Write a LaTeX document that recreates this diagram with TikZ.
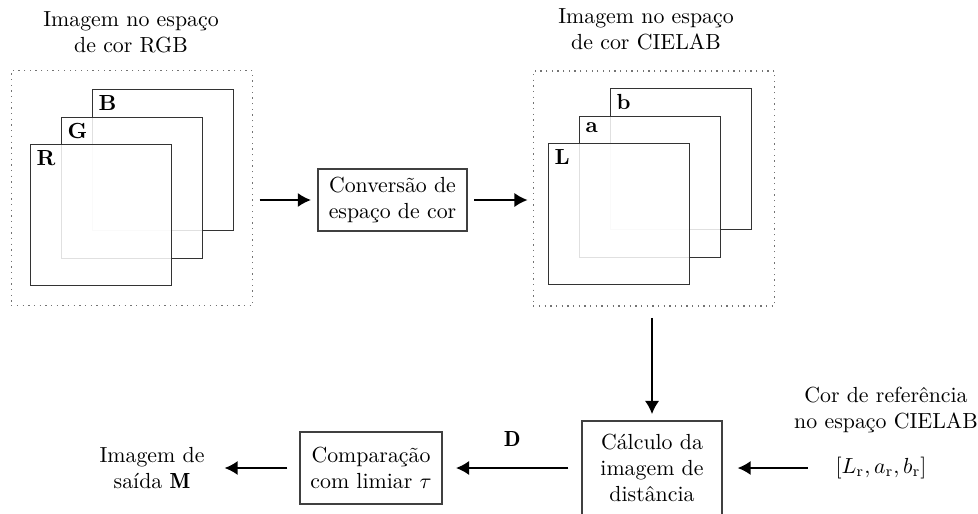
\documentclass[tikz,border=0pt]{standalone}
\usepackage{fontspec}
\usetikzlibrary{arrows.meta, positioning}

\tikzset{
  camada/.style={draw=black!80, line width=0.75pt, fill=white, fill opacity=0.85,
    minimum size=2.27cm, inner sep=0pt},
  rotulo/.style={anchor=north west, inner sep=3pt, font=\bfseries},
  moldura/.style={draw=black!55, dotted, line width=0.6pt,
    minimum width=3.89cm, minimum height=3.78cm, inner sep=0pt},
  bloco/.style={draw=black!75, line width=0.75pt, align=center, inner sep=0pt},
  seta/.style={-{Latex[length=6pt,width=6.5pt]}, line width=0.8pt},
}

\begin{document}
\begin{tikzpicture}[x=0.0161cm, y=-0.0161cm]
    \useasboundingbox (0,0) rectangle (978,513);

    % imagem de entrada (RGB)
    \node [align=center] (rgbtitle) at (131,32) {Imagem no espaço\\de cor RGB};
    \node [moldura] (rgb) at (132,188) {};
    \node [camada] (B) at (163,160) {};
    \node [rotulo] at (B.north west) {B};
    \node [camada] (G) at (132,188) {};
    \node [rotulo] at (G.north west) {G};
    \node [camada] (R) at (101,215) {};
    \node [rotulo] at (R.north west) {R};

    \node [bloco, minimum width=2.4cm, minimum height=1cm] (conv) at (392.5,200) {Conversão de\\espaço de cor};

    % imagem convertida (CIELAB)
    \node [align=center] (labtitle) at (646,29) {Imagem no espaço\\de cor CIELAB};
    \node [moldura] (lab) at (654,188.5) {};
    \node [camada] (b) at (681,159) {};
    \node [rotulo] at (b.north west) {b};
    \node [camada] (a) at (650,187) {};
    \node [rotulo] at (a.north west) {a};
    \node [camada] (L) at (619,214) {};
    \node [rotulo] at (L.north west) {L};

    \draw [seta, shorten <=0.1cm, shorten >=0.1cm] (rgb.east |- conv) -- (conv);
    \draw [seta, shorten <=0.1cm, shorten >=0.08cm] (conv) -- (lab.west |- conv);

    % linha de baixo
    \node [bloco, minimum width=2.25cm, minimum height=1.51cm] (calc) at (652,468) {Cálculo da\\imagem de\\distância};
    \node [bloco, minimum width=2.29cm, minimum height=1.16cm] (comp) at (371,468) {Comparação\\com limiar $\tau$};
    \node [align=center] (saida) at (152,468) {Imagem de\\saída $\mathbf{M}$};
    \node [align=center] (ref) at (886,410) {Cor de referência\\no espaço CIELAB};
    \node (refval) at (881,468) {$[L_\mathrm{r}, a_\mathrm{r}, b_\mathrm{r}]$};

    \draw [seta, shorten <=0.18cm, shorten >=0.1cm] (lab.south -| calc) -- (calc);
    \draw [seta, shorten <=0.32cm, shorten >=0.24cm] (refval) -- (calc);
    \draw [seta, shorten <=0.21cm, shorten >=0.21cm] (calc) -- node [above=0.21cm] (dist) {$\mathbf{D}$} (comp);
    \draw [seta, shorten <=0.19cm, shorten >=0.2cm] (comp) -- (saida);
\end{tikzpicture}
\end{document}
